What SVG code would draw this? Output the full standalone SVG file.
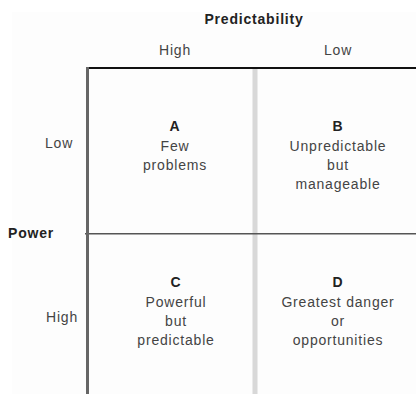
<svg xmlns="http://www.w3.org/2000/svg" width="416" height="394" viewBox="0 0 416 394">
  <style>
    .t { font-family: "Liberation Sans", Arial, sans-serif; font-size: 14px; fill: #444; letter-spacing: 0.8px; }
    .b { font-weight: bold; fill: #222; }
    .c { text-anchor: middle; }
  </style>
  <rect x="0" y="0" width="416" height="394" fill="#ffffff"/>
  <rect x="12" y="12" width="404" height="382" fill="#fdfdfd"/>

  <!-- grid lines -->
  <g id="grid">
    <line x1="255" y1="69" x2="255" y2="394" stroke="#d8d8d8" stroke-width="5"/>
    <line x1="85" y1="233.8" x2="416" y2="233.8" stroke="#555" stroke-width="1.5"/>
    <line x1="86" y1="68" x2="416" y2="68" stroke="#111" stroke-width="2"/>
    <line x1="87.5" y1="67" x2="87.5" y2="394" stroke="#666" stroke-width="3"/>
  </g>

  <!-- axis titles and scale labels -->
  <g id="axis-predictability">
    <text class="t b c" x="254" y="24">Predictability</text>
    <text class="t c" x="175" y="55">High</text>
    <text class="t c" x="338" y="55">Low</text>
  </g>
  <g id="axis-power">
    <text class="t b" x="8" y="238">Power</text>
    <text class="t" x="45" y="148">Low</text>
    <text class="t" x="46" y="322">High</text>
  </g>

  <!-- quadrants -->
  <g id="quadrant-a">
    <text class="t b c" x="175" y="131">A</text>
    <text class="t c" x="175" y="151">Few</text>
    <text class="t c" x="175" y="170">problems</text>
  </g>
  <g id="quadrant-b">
    <text class="t b c" x="338" y="131">B</text>
    <text class="t c" x="338" y="151">Unpredictable</text>
    <text class="t c" x="338" y="170">but</text>
    <text class="t c" x="338" y="189">manageable</text>
  </g>
  <g id="quadrant-c">
    <text class="t b c" x="176" y="287">C</text>
    <text class="t c" x="176" y="307">Powerful</text>
    <text class="t c" x="176" y="326">but</text>
    <text class="t c" x="176" y="345">predictable</text>
  </g>
  <g id="quadrant-d">
    <text class="t b c" x="338" y="287">D</text>
    <text class="t c" x="338" y="307">Greatest danger</text>
    <text class="t c" x="338" y="326">or</text>
    <text class="t c" x="338" y="345">opportunities</text>
  </g>
</svg>
